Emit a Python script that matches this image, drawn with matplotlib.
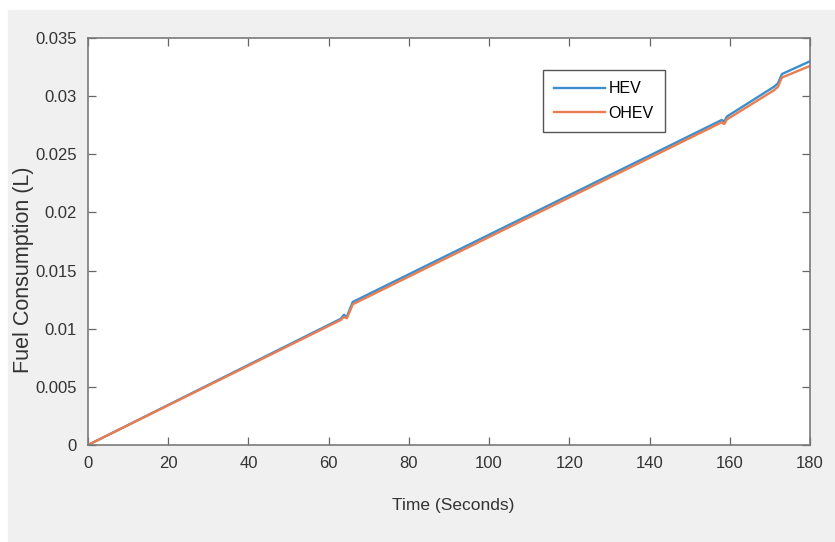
import matplotlib
matplotlib.use("Agg")
import matplotlib.pyplot as plt

t_hev = [0, 63, 63.8, 64.5, 65.3, 66, 158, 158.6, 159.3, 171, 172, 173, 180]
fc_hev = [0, 0.01085, 0.0112, 0.0110, 0.0117, 0.0123, 0.02795, 0.0278, 0.02825, 0.0308, 0.0311, 0.0319, 0.0330]
t_ohev = [0, 63, 63.8, 64.5, 65.3, 66, 158, 158.6, 159.3, 171, 172, 173, 180]
fc_ohev = [0, 0.01075, 0.0110, 0.0109, 0.0115, 0.0121, 0.02775, 0.0276, 0.02800, 0.0305, 0.0308, 0.0316, 0.0326]

xticks = list(range(0, 181, 20))
yticks = [0, 0.005, 0.01, 0.015, 0.02, 0.025, 0.03, 0.035]
yticklabels = ["0", "0.005", "0.01", "0.015", "0.02", "0.025", "0.03", "0.035"]

font = "Liberation Sans"
gray = "#333333"

fig = plt.figure(figsize=(8.35, 5.42), dpi=100)
fig.patch.set_facecolor("white")
# gray panel inside a thin white margin
fig.patches.append(plt.Rectangle((8 / 835, 0), 1, 1 - 10 / 542,
                                 transform=fig.transFigure, color="#f0f0f0", zorder=-10))

ax = fig.add_axes([88 / 835, 1 - 445 / 542, (810 - 88) / 835, (445 - 38) / 542])
ax.plot(t_hev, fc_hev, color="#3a8fd0", lw=1.7, label="HEV")
ax.plot(t_ohev, fc_ohev, color="#ea7d50", lw=1.7, label="OHEV")

ax.set_xlim(0, 180)
ax.set_ylim(0, 0.035)
ax.set_xticks(xticks)
ax.set_yticks(yticks)
ax.set_yticklabels(yticklabels)
ax.tick_params(direction="in", top=True, right=True, length=6, width=0.9,
               colors="#666666", labelcolor=gray, labelsize=12, pad=8)
for lbl in ax.get_xticklabels() + ax.get_yticklabels():
    lbl.set_family(font)
for sp in ax.spines.values():
    sp.set_color("#7a7a7a")
    sp.set_linewidth(1.2)

ax.set_xlabel("Time (Seconds)", fontsize=12.5, family=font, color=gray)
ax.xaxis.set_label_coords(0.506, -0.13)
ax.set_ylabel("Fuel Consumption (L)", fontsize=15.5, family=font, color=gray)
ax.yaxis.set_label_coords(-0.075, 0.43)

leg = ax.legend(loc="upper left", bbox_to_anchor=(0.63, 0.921), borderaxespad=0,
                fancybox=False, framealpha=1, edgecolor="#555555",
                handlelength=3.2, handletextpad=0.2,
                prop={"family": font, "size": 11.5}, borderpad=0.7, labelspacing=0.6)
leg.get_frame().set_linewidth(1.0)

fig.savefig("out.png", dpi=100)
